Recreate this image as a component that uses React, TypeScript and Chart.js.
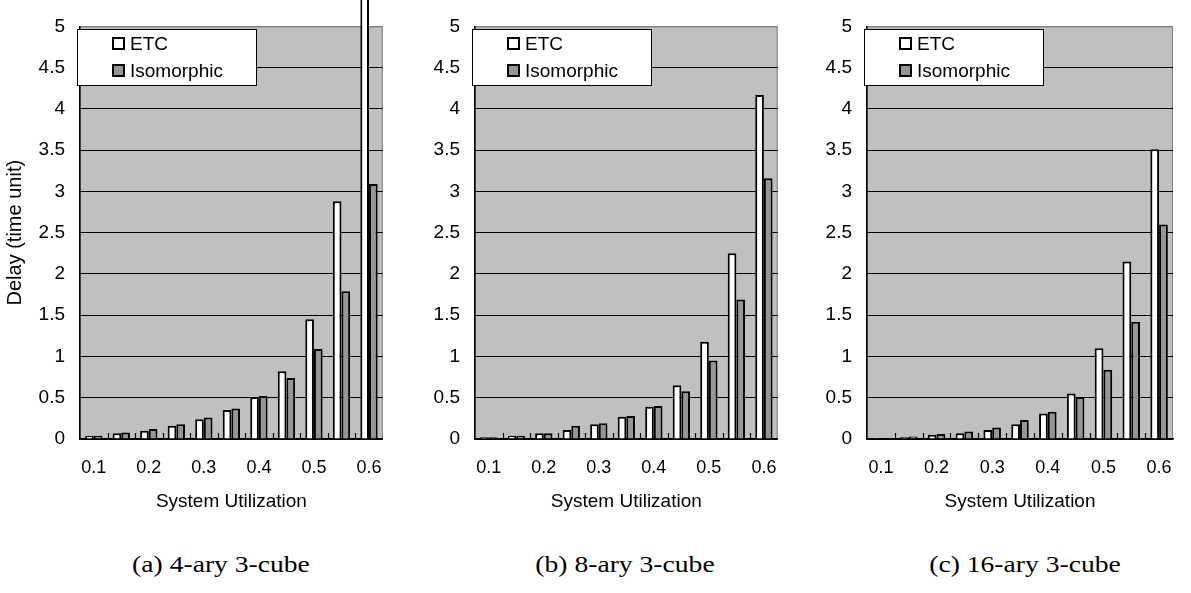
import React, { useEffect, useRef } from 'react';
import { Chart, registerables } from 'chart.js';

Chart.register(...registerables);
Chart.defaults.font.family = "'Liberation Sans', Arial, sans-serif";
Chart.defaults.color = '#000';

// ---- data ----
const categories = ['0.1', '0.15', '0.2', '0.25', '0.3', '0.35', '0.4', '0.45', '0.5', '0.55', '0.6'];
const xTickLabels = ['0.1', '0.2', '0.3', '0.4', '0.5', '0.6'];
const seriesNames = ['ETC', 'Isomorphic'];

const etcA = [0.04, 0.07, 0.10, 0.16, 0.24, 0.35, 0.51, 0.82, 1.45, 2.88, 6.2];
const isoA = [0.04, 0.08, 0.12, 0.18, 0.26, 0.37, 0.52, 0.74, 1.09, 1.79, 3.09];
const etcB = [0.02, 0.04, 0.07, 0.11, 0.18, 0.27, 0.39, 0.65, 1.18, 2.25, 4.17];
const isoB = [0.02, 0.04, 0.07, 0.16, 0.19, 0.28, 0.40, 0.58, 0.95, 1.69, 3.16];
const etcC = [0.01, 0.02, 0.05, 0.07, 0.11, 0.18, 0.31, 0.55, 1.10, 2.15, 3.51];
const isoC = [0.01, 0.03, 0.06, 0.09, 0.14, 0.23, 0.33, 0.51, 0.84, 1.42, 2.60];

const xTitle = 'System Utilization';
const yTitle = 'Delay (time unit)';
const captions = ['(a) 4-ary 3-cube', '(b) 8-ary 3-cube', '(c) 16-ary 3-cube'];

// ---- style ----
const ETC_FILL = '#ffffff';
const ISO_FILL = '#969696';
const PLOT_BG = '#c0c0c0';
const FONT = "'Liberation Sans', Arial, sans-serif";

const decoPlugin = {
  id: 'deco',
  beforeDraw(chart: any) {
    const { ctx, chartArea: a } = chart;
    ctx.save();
    ctx.fillStyle = PLOT_BG;
    ctx.fillRect(a.left, a.top, a.right - a.left, a.bottom - a.top);
    ctx.strokeStyle = '#808080';
    ctx.lineWidth = 1;
    ctx.strokeRect(a.left + 0.5, a.top + 0.5, a.right - a.left - 1, a.bottom - a.top - 1);
    ctx.restore();
  },
  beforeDatasetsDraw(chart: any) {
    const { ctx, chartArea: a } = chart;
    const xs = chart.scales.x;
    const n = chart.data.labels.length;
    ctx.save();
    ctx.strokeStyle = '#000';
    ctx.lineWidth = 1.2;
    for (let i = 1; i < n; i++) {
      const px = Math.round(xs.left + ((xs.right - xs.left) * i) / n) + 0.5;
      ctx.beginPath();
      ctx.moveTo(px, a.bottom);
      ctx.lineTo(px, a.bottom - 6);
      ctx.stroke();
    }
    ctx.restore();
  },
  afterDraw(chart: any) {
    const { ctx, chartArea: a } = chart;
    const bx = Math.round(a.left - 3);
    const by = Math.round(a.top + 3);
    const bw = 179;
    const bh = 56;
    ctx.save();
    ctx.fillStyle = '#fff';
    ctx.fillRect(bx, by, bw, bh);
    ctx.strokeStyle = '#000';
    ctx.lineWidth = 1;
    ctx.strokeRect(bx + 0.5, by + 0.5, bw, bh);
    const rows = [14.5, 41.5];
    chart.data.datasets.forEach((ds: any, i: number) => {
      const cy = by + rows[i];
      const mx = bx + 35;
      const s = 13;
      ctx.fillStyle = ds.backgroundColor;
      ctx.fillRect(mx, cy - s / 2, s, s);
      ctx.strokeStyle = '#000';
      ctx.lineWidth = 2;
      ctx.strokeRect(mx + 1, cy - s / 2 + 1, s - 2, s - 2);
      ctx.fillStyle = '#000';
      ctx.font = `19px ${FONT}`;
      ctx.textBaseline = 'middle';
      ctx.textAlign = 'left';
      ctx.fillText(ds.label, bx + 53, cy + 1);
    });
    ctx.restore();
  },
};

type PanelProps = {
  etc: number[];
  iso: number[];
  showYTitle: boolean;
  left: number;
  width: number;
  yWidth: number;
  padTop: number;
  padRight: number;
};

function Panel(p: PanelProps) {
  const ref = useRef<HTMLCanvasElement>(null);
  useEffect(() => {
    if (!ref.current) return;
    const chart = new Chart(ref.current, {
      type: 'bar',
      data: {
        labels: categories,
        datasets: [
          {
            label: seriesNames[0],
            data: p.etc,
            backgroundColor: ETC_FILL,
            borderColor: '#000',
            borderWidth: 2,
            clip: false as any,
          },
          {
            label: seriesNames[1],
            data: p.iso,
            backgroundColor: ISO_FILL,
            borderColor: '#000',
            borderWidth: 2,
            clip: false as any,
          },
        ],
      },
      options: {
        responsive: true,
        maintainAspectRatio: false,
        animation: false,
        events: [],
        layout: { padding: { left: 0, right: p.padRight, top: p.padTop, bottom: 7 } },
        datasets: { bar: { categoryPercentage: 0.63, barPercentage: 1 } },
        plugins: { legend: { display: false }, tooltip: { enabled: false } },
        scales: {
          x: {
            grid: { display: false, drawTicks: false },
            border: { display: true, color: '#000', width: 1.5 },
            ticks: {
              autoSkip: false,
              maxRotation: 0,
              minRotation: 0,
              padding: 18,
              color: '#000',
              font: { size: 18, family: FONT },
              callback: (_v: any, i: number) =>
                xTickLabels.includes(categories[i]) ? categories[i] : '',
            },
            title: {
              display: true,
              text: xTitle,
              color: '#000',
              font: { size: 19, family: FONT },
              padding: { top: 0, bottom: 0 },
            },
            afterFit: (s: any) => {
              s.height = 74;
            },
          },
          y: {
            min: 0,
            max: 5,
            grid: {
              drawTicks: false,
              lineWidth: 1,
              color: (c: any) => (c.tick && c.tick.value === 5 ? '#808080' : '#000'),
            },
            border: { display: true, color: '#000', width: 1.5 },
            ticks: {
              stepSize: 0.5,
              padding: 15,
              color: '#000',
              font: { size: 19, family: FONT },
              callback: (v: any) => String(Number(v)),
            },
            title: {
              display: p.showYTitle,
              text: yTitle,
              color: '#000',
              font: { size: 20, family: FONT },
              padding: { top: 3, bottom: 0 },
            },
            afterFit: (s: any) => {
              s.width = p.yWidth;
            },
          },
        },
      },
      plugins: [decoPlugin],
    });
    return () => chart.destroy();
  }, []);
  return (
    <div style={{ position: 'absolute', left: p.left, top: 0, width: p.width, height: 520 }}>
      <canvas ref={ref} />
    </div>
  );
}

const panels = [
  { etc: etcA, iso: isoA, showYTitle: true, left: 0, width: 400, yWidth: 80, padTop: 12, padRight: 11, cap: 221 },
  { etc: etcB, iso: isoB, showYTitle: false, left: 400, width: 395, yWidth: 75, padTop: 15, padRight: 13, cap: 625 },
  { etc: etcC, iso: isoC, showYTitle: false, left: 795, width: 396, yWidth: 72, padTop: 17, padRight: 18, cap: 1025 },
];

export default function App() {
  return (
    <div style={{ position: 'absolute', left: 0, top: 0, width: 1191, height: 593, background: '#fff', overflow: 'hidden' }}>
      {panels.map((p, i) => (
        <Panel key={i} {...p} />
      ))}
      {panels.map((p, i) => (
        <div
          key={'c' + i}
          style={{
            position: 'absolute',
            left: p.cap - 150,
            top: 552,
            width: 300,
            textAlign: 'center',
            fontFamily: "'Liberation Serif', 'Times New Roman', serif",
            fontSize: 24,
            lineHeight: '24px',
            color: '#000',
            transform: 'scaleX(1.15)',
            transformOrigin: 'center',
            whiteSpace: 'nowrap',
          }}
        >
          {captions[i]}
        </div>
      ))}
    </div>
  );
}
